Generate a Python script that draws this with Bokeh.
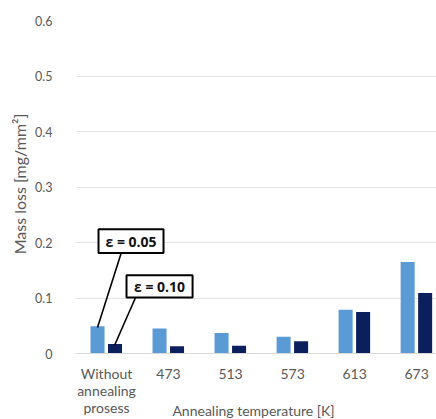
from bokeh.plotting import figure
from bokeh.models import Range1d, FixedTicker, ColumnDataSource, Label
from bokeh.transform import dodge
from bokeh.core.properties import value
from bokeh.embed import file_html
from bokeh.resources import INLINE

# ---- data ----
categories = ["Without\nannealing\nprosess", "473", "513", "573", "613", "673"]
eps_005 = [0.049, 0.045, 0.037, 0.030, 0.079, 0.165]
eps_010 = [0.017, 0.013, 0.014, 0.022, 0.075, 0.109]
y_ticks = [0, 0.1, 0.2, 0.3, 0.4, 0.5, 0.6]
y_tick_labels = ["0", "0.1", "0.2", "0.3", "0.4", "0.5", "0.6"]

idx = list(range(len(categories)))
src = ColumnDataSource(dict(x=idx, a=eps_005, b=eps_010))

TXT = "#595959"
FONT = "Lato"

p = figure(width=436, height=419, output_backend="svg", toolbar_location=None,
           x_range=Range1d(-0.5, 5.32), y_range=Range1d(-0.1189, 0.6),
           min_border_left=75, min_border_right=0, min_border_top=20,
           min_border_bottom=0)
p.outline_line_color = None

p.vbar(x=dodge("x", -0.145), top="a", width=0.226, source=src,
       fill_color="#5B9BD5", line_color=None)
p.vbar(x=dodge("x", 0.137), top="b", width=0.226, source=src,
       fill_color="#0B1F5C", line_color=None)

# x axis sits at y = 0 inside the frame
p.xaxis.fixed_location = 0
p.xaxis.ticker = FixedTicker(ticks=idx)
p.xaxis.major_label_overrides = {i: c for i, c in zip(idx, categories)}
p.xaxis.axis_line_color = "#d9d9d9"
p.xaxis.major_tick_line_color = None
p.xaxis.minor_tick_line_color = None
p.xaxis.major_label_text_font = FONT
p.xaxis.major_label_text_font_size = "14px"
p.xaxis.major_label_text_color = TXT
p.xaxis.major_label_text_line_height = 1.0
p.xaxis.major_label_standoff = 5

p.yaxis.ticker = FixedTicker(ticks=y_ticks)
p.yaxis.major_label_overrides = {t: l for t, l in zip(y_ticks, y_tick_labels)}
p.yaxis.axis_line_color = None
p.yaxis.major_tick_line_color = None
p.yaxis.minor_tick_line_color = None
p.yaxis.major_label_text_font = FONT
p.yaxis.major_label_text_font_size = "12.5px"
p.yaxis.major_label_text_color = TXT
p.yaxis.major_label_standoff = 17
# leading spaces lift the title so that it is centred on the 0-0.6 part of the axis
p.yaxis.axis_label = "\u2003" * 6 + "Mass loss [mg/mm\u00b2]"
p.yaxis.axis_label_text_font = FONT
p.yaxis.axis_label_text_font_size = "16px"
p.yaxis.axis_label_text_font_style = "normal"
p.yaxis.axis_label_text_color = TXT
p.yaxis.axis_label_standoff = 3

p.xgrid.grid_line_color = None
p.ygrid.grid_line_color = "#e3e3e3"

# x axis title
p.add_layout(Label(x=2.37, y=-0.1027, text="Annealing temperature [K]",
                   text_align="center", text_baseline="middle",
                   text_font=FONT, text_font_size="14px", text_color=TXT))

# callouts
p.segment(x0=[0.237, 0.468], y0=[0.181, 0.101], x1=[-0.145, 0.129],
          y1=[0.047, 0.0145], line_color="black", line_width=1.6)
p.rect(x=[0.395, 0.855], y=[0.2025, 0.121], width=[1.048, 1.065],
       height=[0.043, 0.040], fill_color="white", line_color="black",
       line_width=2)
p.text(x=[0.395, 0.855], y=[0.2025, 0.121], text=["\u03b5 = 0.05", "\u03b5 = 0.10"],
       text_align="center", text_baseline="middle",
       text_font=value("Open Sans"), text_font_style="bold",
       text_font_size="14px", text_color="#111111")

open("out.html", "w").write(file_html(p, INLINE))
